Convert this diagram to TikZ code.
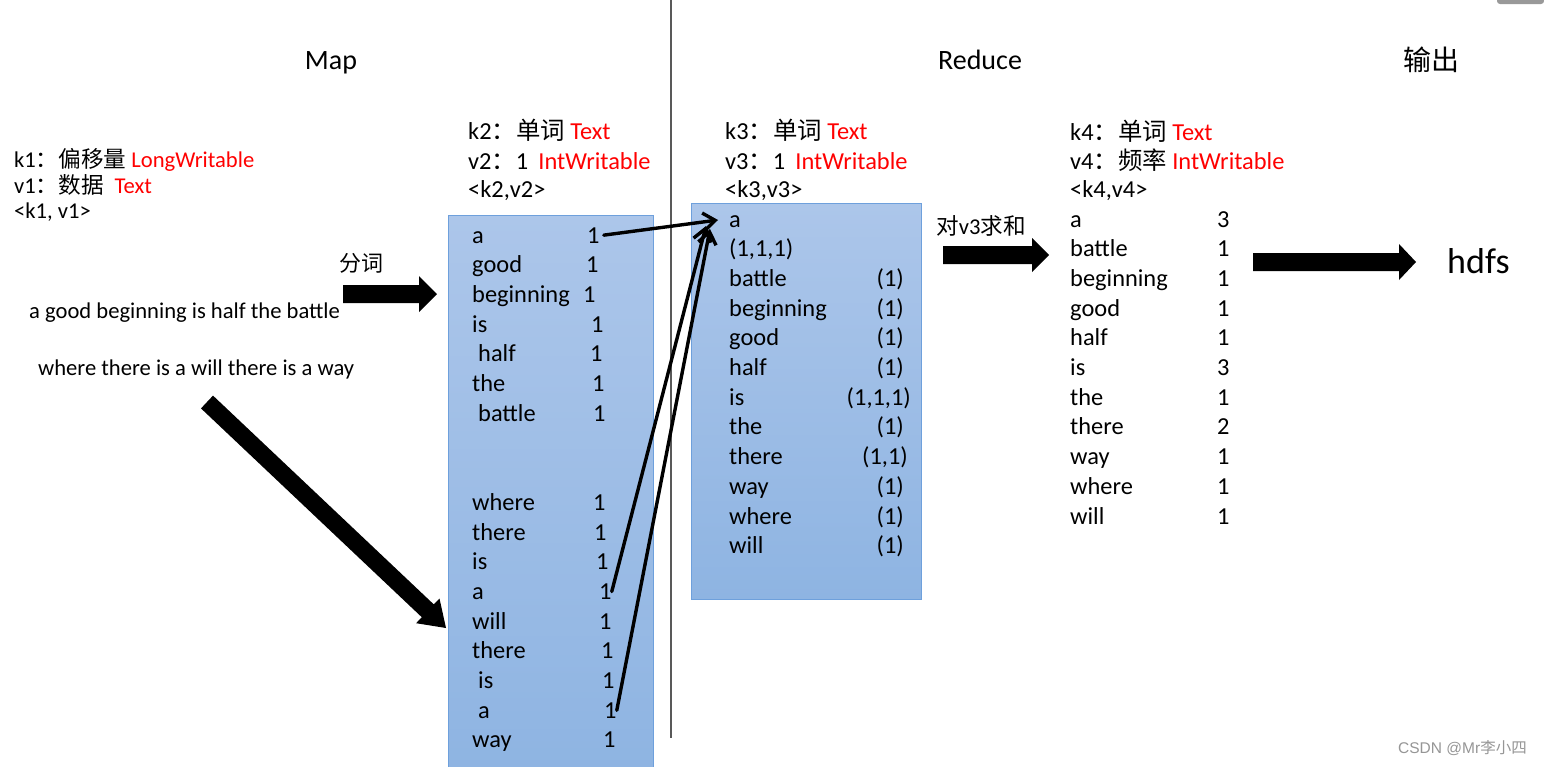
\documentclass[tikz,border=0pt]{standalone}
\usepackage{fontspec}
\setmainfont{Carlito}
\newfontfamily\cjk{Noto Sans CJK SC}
\newfontfamily\wmfont{Liberation Sans}
\usetikzlibrary{arrows.meta,calc}
\definecolor{boxtop}{RGB}{172,198,234}
\definecolor{boxbot}{RGB}{142,180,226}
\definecolor{boxline}{RGB}{110,160,220}
\definecolor{kred}{RGB}{255,0,0}
\definecolor{wm}{RGB}{150,150,150}
\begin{document}
\begin{tikzpicture}[x=1pt,y=-1pt,
  t/.style={inner sep=0pt, anchor=base west, font=\fontsize{24.4}{29}\selectfont},
  th/.style={inner sep=0pt, anchor=base west, font=\fontsize{22.6}{26}\selectfont},
  ttl/.style={inner sep=0pt, anchor=base, font=\fontsize{28}{34}\selectfont},
  flowline/.style={line width=3.4pt, line cap=round, -{Straight Barb[length=12pt,width=18pt]}},
  wbox/.style={draw=boxline, line width=1pt, top color=boxtop, bottom color=boxbot, inner sep=0pt, anchor=north west}]
\useasboundingbox (0,0) rectangle (1544,766);
\fill[white] (0,0) rectangle (1544,766);
% scroll tab
\fill[black!40, rounded corners=3pt] (1497,-6) rectangle (1544,4);
% separator
\draw[black!65, line width=1.3pt] (671,0) -- (671,738);
% titles
\node[ttl] (map) at (331,69) {Map};
\node[ttl] (reduce) at (980,69) {Reduce};
\node[ttl, font=\cjk\fontsize{28}{34}\selectfont] (out) at (1431,70) {输出};
% diagonal block arrow
\fill (201.0,408.4) -- (213.0,395.6) -- (433.8,604.4) -- (439.5,598.5) -- (446,628) -- (416.1,623.2) -- (421.8,617.2) -- cycle;
% boxes
\node[wbox, minimum width=205pt, minimum height=560pt] (box1) at (448,215) {};
\node[wbox, minimum width=230pt, minimum height=396pt] (box2) at (691,203) {};
% k1 header
\node[th] (k1) at (14,167) {k1{\cjk ：偏移量} \textcolor{kred}{LongWritable}};
\node[th] (v1) at (14,193) {v1{\cjk ：数据}\hspace{11pt}\textcolor{kred}{Text}};
\node[th] (p1) at (14,218) {<k1, v1>};
% sentences
\node[th] (s1) at (29,318) {a good beginning is half the battle};
\node[th] (s2) at (38,375) {where there is a will there is a way};
\node[th, font=\cjk\fontsize{22}{26}\selectfont] (fc) at (339,271) {分词};
% k2 header
\node[t] (k2) at (468,139) {k2{\cjk ：单词} \textcolor{kred}{Text}};
\node[t] (v2) at (468,169) {v2{\cjk ：}1\hspace{10pt}\textcolor{kred}{IntWritable}};
\node[t] (p2) at (468,197) {<k2,v2>};
% k3 header
\node[t] (k3) at (725,139) {k3{\cjk ：单词} \textcolor{kred}{Text}};
\node[t] (v3) at (725,169) {v3{\cjk ：}1\hspace{10pt}\textcolor{kred}{IntWritable}};
\node[t] (p3) at (725,197) {<k3,v3>};
% k4 header
\node[t] (k4) at (1070,140) {k4{\cjk ：单词} \textcolor{kred}{Text}};
\node[t] (v4) at (1070,169) {v4{\cjk ：频率} \textcolor{kred}{IntWritable}};
\node[t] (p4) at (1070,197) {<k4,v4>};
% box1 rows
\foreach \i/\w/\wx/\nx in {0/a/472/587,1/good/472/586,2/beginning/472/583,3/is/472/591,4/half/478/590,5/the/472/592,6/battle/478/593,9/where/472/593,10/there/472/594,11/is/472/596,12/a/472/599,13/will/472/599,14/there/472/601,15/is/478/602,16/a/478/604,17/way/472/603}{
  \node[t] (w\i) at (\wx,243+29.7*\i) {\w};
  \node[t] (n\i) at (\nx,243+29.7*\i) {1};
}
% box2 rows
\foreach \i/\w in {0/a,1/{(1,1,1)},2/battle,3/beginning,4/good,5/half,6/is,7/the,8/there,9/way,10/where,11/will}{
  \node[t] (r\i) at (729,227+29.7*\i) {\w};
}
\foreach \i/\v/\x in {2/{(1)}/904,3/{(1)}/904,4/{(1)}/904,5/{(1)}/904,6/{(1,1,1)}/911,7/{(1)}/904,8/{(1,1)}/908,9/{(1)}/904,10/{(1)}/904,11/{(1)}/904}{
  \node[t, anchor=base east] (v\i) at (\x,227+29.7*\i) {\v};
}
% output rows
\foreach \i/\w/\c in {0/a/3,1/battle/1,2/beginning/1,3/good/1,4/half/1,5/is/3,6/the/1,7/there/2,8/way/1,9/where/1,10/will/1}{
  \node[t] (o\i) at (1070,227+29.7*\i) {\w};
  \node[t] (c\i) at (1217,227+29.7*\i) {\c};
}
% sum label and hdfs
\node[th] (dv) at (936,234) {{\cjk 对}v3{\cjk 求和}};
\node[inner sep=0pt, anchor=base west, font=\fontsize{36}{40}\selectfont] (hdfs) at (1447,273) {hdfs};
% block arrows
\fill (343,285) -- (419,285) -- (419,276) -- (437,294) -- (419,312) -- (419,303) -- (343,303) -- cycle;
\fill (943,246) -- (1032,246) -- (1032,238) -- (1049,255) -- (1032,272) -- (1032,264) -- (943,264) -- cycle;
\fill (1253,253) -- (1399,253) -- (1399,244) -- (1416,262) -- (1399,280) -- (1399,271) -- (1253,271) -- cycle;
% thin arrows
\coordinate (tA) at (718,220);
\coordinate (tB) at (706,226);
\coordinate (tC) at (710,229);
\draw[flowline] ([xshift=4pt]n0.east) -- (tA);
\draw[flowline] (n12.east) -- (tB);
\draw[flowline] (n16.east) -- (tC);
% watermark
\node[inner sep=0pt, anchor=base west, font=\wmfont\fontsize{15.5}{18}\selectfont, text=wm] (wmk) at (1398,753) {CSDN @Mr{\cjk 李小四}};
\end{tikzpicture}
\end{document}
